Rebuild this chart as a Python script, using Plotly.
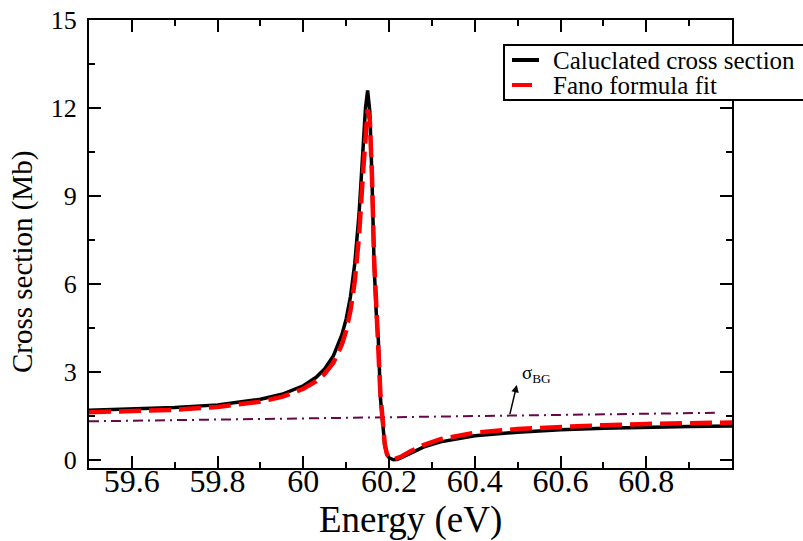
import plotly.graph_objects as go

# ---- data ----
energy = [59.5, 59.6, 59.7, 59.8, 59.9, 59.95, 60.0, 60.03, 60.05, 60.07, 60.09,
          60.10, 60.11, 60.12, 60.13, 60.14, 60.145, 60.15, 60.155, 60.16, 60.165,
          60.17, 60.175, 60.18, 60.185, 60.19, 60.195, 60.20, 60.21, 60.22, 60.23,
          60.25, 60.28, 60.32, 60.4, 60.5, 60.6, 60.7, 60.8, 60.9, 61.0]

calc_xs = [1.71, 1.74, 1.80, 1.89, 2.08, 2.25, 2.54, 2.83, 3.12, 3.56, 4.28,
           4.82, 5.58, 6.70, 8.40, 10.80, 12.0, 12.6, 11.9, 9.70, 6.70,
           5.05, 4.10, 2.10, 1.35, 0.50, 0.20, 0.09, 0.02, 0.04, 0.10,
           0.25, 0.45, 0.63, 0.84, 0.96, 1.04, 1.09, 1.13, 1.15, 1.17]

fano_fit = [1.64, 1.67, 1.72, 1.82, 2.00, 2.16, 2.44, 2.70, 2.95, 3.32, 3.95,
            4.42, 5.10, 6.10, 7.65, 9.95, 11.2, 11.95, 11.6, 9.75, 6.90,
            5.10, 4.00, 2.20, 1.40, 0.55, 0.22, 0.10, 0.03, 0.07, 0.14,
            0.31, 0.52, 0.72, 0.94, 1.07, 1.15, 1.20, 1.24, 1.27, 1.29]

bg_energy = [59.5, 60.0, 60.5, 60.96]
bg_xs = [1.33, 1.43, 1.53, 1.62]

x_tickvals = [59.6, 59.8, 60.0, 60.2, 60.4, 60.6, 60.8]
x_ticktext = ["59.6", "59.8", "60", "60.2", "60.4", "60.6", "60.8"]
y_tickvals = [0, 3, 6, 9, 12, 15]
y_ticktext = ["0", "3", "6", "9", "12", "15"]

legend_names = ["Caluclated cross section", "Fano formula fit"]
legend_colors = ["black", "#ff0000"]

FONT = "'Liberation Serif', 'Times New Roman', Times, serif"

fig = go.Figure()
fig.add_trace(go.Scatter(x=bg_energy, y=bg_xs, mode="lines", showlegend=False,
                         line=dict(color="#670748", width=2, dash="10px,5px,2px,5px")))
fig.add_trace(go.Scatter(x=energy, y=calc_xs, mode="lines", name=legend_names[0],
                         showlegend=False, line=dict(color=legend_colors[0], width=3.5)))
fig.add_trace(go.Scatter(x=energy, y=fano_fit, mode="lines", name=legend_names[1],
                         showlegend=False,
                         line=dict(color=legend_colors[1], width=4.5, dash="22px,8px")))

axis_common = dict(showgrid=False, zeroline=False, showline=True, linecolor="black",
                   linewidth=2, mirror="allticks", ticks="inside", ticklen=12,
                   tickwidth=2, tickcolor="black")

fig.update_xaxes(range=[59.5, 61.0], tickmode="array", tickvals=x_tickvals,
                 ticktext=x_ticktext, ticklabelstandoff=-16,
                 tickfont=dict(family=FONT, size=32, color="black"),
                 minor=dict(ticks="inside", ticklen=6, tickwidth=2, dtick=0.1,
                            tick0=59.5, tickcolor="black"),
                 **axis_common)
fig.update_yaxes(range=[-0.26, 15], tickmode="array", tickvals=y_tickvals,
                 ticktext=y_ticktext, ticklabelstandoff=5,
                 tickfont=dict(family=FONT, size=26, color="black"),
                 minor=dict(ticks="inside", ticklen=6, tickwidth=2, dtick=1.5,
                            tick0=0, tickcolor="black"),
                 **axis_common)

# legend box (drawn in paper coordinates, running past the right edge as in the reference)
def px_x(p):
    return (p - 89) / 643.0

def px_y(p):
    return (468 - p) / 448.0

shapes = [
    dict(type="rect", xref="paper", yref="paper", x0=px_x(504), x1=px_x(812),
         y0=px_y(100), y1=px_y(45), line=dict(color="black", width=2),
         fillcolor="white", layer="above"),
    dict(type="line", xref="paper", yref="paper", x0=px_x(512), x1=px_x(539),
         y0=px_y(60), y1=px_y(60), line=dict(color=legend_colors[0], width=4),
         layer="above"),
    dict(type="line", xref="paper", yref="paper", x0=px_x(512), x1=px_x(532),
         y0=px_y(85), y1=px_y(85), line=dict(color=legend_colors[1], width=4),
         layer="above"),
]

annotations = [
    dict(text=legend_names[0], xref="paper", yref="paper", x=px_x(551), y=px_y(60),
         xanchor="left", yanchor="middle", showarrow=False,
         font=dict(family=FONT, size=25)),
    dict(text=legend_names[1], xref="paper", yref="paper", x=px_x(551), y=px_y(85),
         xanchor="left", yanchor="middle", showarrow=False,
         font=dict(family=FONT, size=25)),
    dict(text="Energy (eV)", xref="paper", yref="paper", x=0.5, y=px_y(520),
         xanchor="center", yanchor="middle", showarrow=False,
         font=dict(family=FONT, size=37)),
    dict(text="Cross section (Mb)", xref="paper", yref="paper", x=px_x(22), y=px_y(262),
         xanchor="center", yanchor="middle", showarrow=False, textangle=-90,
         font=dict(family=FONT, size=29)),
    dict(text="", x=60.498, y=2.57, ax=60.481, ay=1.525, xref="x", yref="y",
         axref="x", ayref="y", showarrow=True, arrowhead=2, arrowsize=1,
         arrowwidth=1.5, arrowcolor="black"),
    dict(text="σ<sub>BG</sub>", x=60.545, y=2.95, xref="x", yref="y",
         xanchor="center", yanchor="middle", showarrow=False,
         font=dict(family=FONT, size=19)),
]

fig.update_layout(
    width=803, height=541,
    margin=dict(l=89, r=71, t=20, b=73, autoexpand=False),
    plot_bgcolor="white", paper_bgcolor="white",
    font=dict(family=FONT, color="black"),
    showlegend=False,
    shapes=shapes,
    annotations=annotations,
)

fig.write_html("out.html")
